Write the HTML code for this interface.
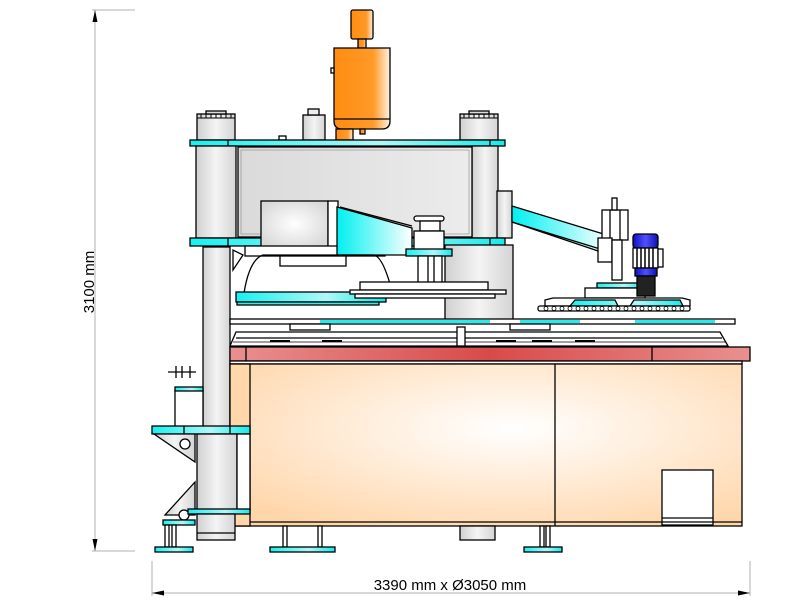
<!DOCTYPE html>
<html><head><meta charset="utf-8"><style>
html,body{margin:0;padding:0;background:#fff;}
svg{display:block;}
text{font-family:"Liberation Sans",sans-serif;}
</style></head><body>
<svg width="800" height="600" viewBox="0 0 800 600" xmlns="http://www.w3.org/2000/svg">
<defs>
<linearGradient id="cy" x1="0" x2="1" y1="0" y2="0"><stop offset="0" stop-color="#19f0f0"/><stop offset="0.6" stop-color="#aef8f8"/><stop offset="1" stop-color="#19e8ea"/></linearGradient>
<linearGradient id="cyv" x1="0" x2="1"><stop offset="0" stop-color="#00f0f0"/><stop offset="1" stop-color="#ffffff"/></linearGradient>
<linearGradient id="gr" x1="0" x2="1"><stop offset="0" stop-color="#d0d0d0"/><stop offset="0.5" stop-color="#f4f4f4"/><stop offset="1" stop-color="#d4d4d4"/></linearGradient>
<linearGradient id="gr2" x1="0" x2="1"><stop offset="0" stop-color="#dadada"/><stop offset="1" stop-color="#ececec"/></linearGradient>
<linearGradient id="or" x1="0" x2="1"><stop offset="0" stop-color="#ff8c10"/><stop offset="0.7" stop-color="#ff9a28"/><stop offset="1" stop-color="#fff0e0"/></linearGradient>
<linearGradient id="red" x1="0" x2="1"><stop offset="0" stop-color="#e89090"/><stop offset="0.5" stop-color="#d84a4a"/><stop offset="1" stop-color="#e89090"/></linearGradient>
<radialGradient id="cab" cx="0.55" cy="0.4" r="0.7"><stop offset="0" stop-color="#ffffff"/><stop offset="1" stop-color="#ffd6aa"/></radialGradient>
<linearGradient id="blue" x1="0" x2="1"><stop offset="0" stop-color="#1010c0"/><stop offset="0.5" stop-color="#5050ff"/><stop offset="1" stop-color="#1010b0"/></linearGradient>
<radialGradient id="wb" cx="0.5" cy="0.5" r="0.6"><stop offset="0" stop-color="#fff"/><stop offset="1" stop-color="#d8d8d8"/></radialGradient>
</defs>
<g stroke="#000" stroke-width="1.3">
<!-- dimension lines -->
<g stroke="#b0b0b0" stroke-width="1">
<line x1="92" y1="10" x2="135" y2="10"/><line x1="95" y1="10" x2="95" y2="551"/><line x1="92" y1="551" x2="135" y2="551"/>
<line x1="152" y1="561" x2="152" y2="596"/><line x1="750" y1="561" x2="750" y2="596"/><line x1="152" y1="593" x2="750" y2="593"/>
</g>
<path d="M95 10 l-2.5 12 h5z M95 551 l-2.5 -12 h5z M152 593 l12 -2.5 v5z M750 593 l-12 -2.5 v5z" fill="#000" stroke="none"/>

<!-- top motor & tank -->
<rect x="351" y="10" width="22" height="29" rx="2" fill="url(#or)"/>
<rect x="358" y="39" width="8" height="9" fill="url(#or)"/>
<path d="M334 48 h56 v73 q0 8 -8 8 h-40 q-8 0 -8 -8z" fill="url(#or)"/>
<line x1="334" y1="119" x2="390" y2="119"/>
<rect x="331" y="68" width="3" height="5" fill="#fff"/>
<rect x="336" y="129" width="17" height="11" fill="url(#or)"/>
<rect x="360" y="129" width="5" height="5" fill="url(#or)"/>
<!-- top towers -->
<rect x="197" y="114" width="38" height="26" fill="url(#gr)"/>
<path d="M197 118 h38 M201 114 v4 M206 114 v4 M211 114 v4 M216 114 v4 M221 114 v4 M226 114 v4 M231 114 v4" stroke-width="1"/>
<rect x="206" y="111" width="20" height="3" fill="#ddd"/>
<rect x="460" y="114" width="38" height="26" fill="url(#gr)"/>
<path d="M460 118 h38 M464 114 v4 M469 114 v4 M474 114 v4 M479 114 v4 M484 114 v4 M489 114 v4 M494 114 v4" stroke-width="1"/>
<rect x="469" y="111" width="20" height="3" fill="#ddd"/>
<rect x="303" y="115" width="22" height="25" fill="url(#gr)"/><rect x="308" y="109" width="11" height="6" fill="#eee"/>
<rect x="279" y="136" width="7" height="4" fill="#fff"/>
<!-- top plate -->
<rect x="190" y="140" width="315" height="6" fill="url(#cy)"/>
<line x1="228" y1="140" x2="228" y2="146"/><line x1="490" y1="140" x2="490" y2="146"/>
<!-- columns and housing -->
<rect x="196" y="146" width="40" height="92" fill="url(#gr)"/>
<rect x="472" y="146" width="26" height="92" fill="url(#gr)"/>
<rect x="238" y="147" width="234" height="90" fill="url(#gr2)"/>
<rect x="241" y="150" width="228" height="84" fill="none" stroke-width="0.6" stroke="#888"/>
<rect x="497" y="191" width="15" height="47" fill="url(#gr)"/>
<!-- second plate -->
<rect x="190" y="238" width="315" height="8" fill="url(#cy)"/>
<line x1="228" y1="238" x2="228" y2="246"/><line x1="490" y1="238" x2="490" y2="246"/>
<!-- inner white block -->
<rect x="261" y="201" width="67" height="46" fill="url(#wb)"/>
<rect x="328" y="201" width="10" height="46" fill="#fff"/>
<rect x="245" y="246" width="140" height="10" fill="#fff"/>
<rect x="280" y="256" width="66" height="10" fill="#fff"/>
<!-- wedge -->
<path d="M337 207 L412 228 V255 H337Z" fill="url(#cyv)"/>
<path d="M340 207 L412 226" />
<!-- left long column -->
<rect x="203" y="247" width="27" height="180" fill="url(#gr)"/>
<path d="M233 250 v20 l10 -15z" fill="#fff"/>
<path d="M243 300 q5 -40 20 -45 h110 q10 0 20 40" fill="none"/>
<!-- cyan left press plate -->
<rect x="236" y="292" width="150" height="10" fill="url(#cy)"/>
<rect x="237" y="302" width="142" height="3" fill="#3ee"/>
<!-- lower housing -->
<rect x="445" y="245" width="68" height="75" fill="url(#gr)"/>
<!-- press shaft -->
<rect x="414" y="216" width="30" height="5" rx="2.5" fill="#fff"/>
<rect x="420" y="221" width="20" height="10" fill="#fff"/>
<rect x="414" y="231" width="30" height="20" fill="#fff"/>
<rect x="406" y="249" width="46" height="7" fill="url(#cy)"/>
<rect x="418" y="256" width="24" height="28" fill="#fff"/>
<line x1="428" y1="256" x2="428" y2="284"/><line x1="434" y1="256" x2="434" y2="284"/>
<!-- platform -->
<rect x="360" y="282" width="128" height="8" fill="#fff"/>
<rect x="350" y="290" width="156" height="4" fill="#fff"/>
<rect x="355" y="294" width="140" height="4" fill="#fff"/>
<!-- right arm -->
<path d="M512 206 L610 236 V255 L512 222Z" fill="url(#cyv)"/>
<path d="M512 222 L610 252" />
<!-- tool head -->
<rect x="602" y="210" width="26" height="30" fill="#fff"/>
<line x1="610" y1="210" x2="610" y2="240"/><line x1="620" y1="210" x2="620" y2="240"/>
<rect x="612" y="198" width="5" height="12" fill="#fff"/>
<rect x="598" y="238" width="14" height="24" fill="#fff"/>
<rect x="612" y="240" width="10" height="40" fill="#fff"/>
<rect x="597" y="283" width="45" height="5" fill="url(#cy)"/>
<rect x="585" y="288" width="60" height="10" fill="#fff"/>
<!-- blue motor -->
<rect x="633" y="234" width="25" height="14" rx="3" fill="url(#blue)"/>
<rect x="633" y="248" width="25" height="20" fill="#fff"/>
<g stroke-width="1.5"><line x1="637" y1="248" x2="637" y2="268"/><line x1="641" y1="248" x2="641" y2="268"/><line x1="645" y1="248" x2="645" y2="268"/><line x1="649" y1="248" x2="649" y2="268"/><line x1="653" y1="248" x2="653" y2="268"/></g>
<rect x="658" y="249" width="5" height="18" fill="#fff"/>
<rect x="635" y="268" width="22" height="8" fill="url(#blue)"/>
<rect x="637" y="276" width="18" height="20" fill="#222"/>
<!-- right rack -->
<path d="M545 300 L553 298 H682 L690 300 V306 H545Z" fill="#fff"/>
<path d="M570 306 L575 300 H615 L618 306Z M630 306 L634 300 H680 L683 306Z" fill="url(#cy)"/>
<rect x="538" y="306" width="152" height="5" rx="2" fill="#fff"/>
<g fill="#fff" stroke-width="0.8">
<circle cx="546" cy="308.5" r="2"/><circle cx="554" cy="308.5" r="2"/><circle cx="562" cy="308.5" r="2"/><circle cx="570" cy="308.5" r="2"/><circle cx="578" cy="308.5" r="2"/><circle cx="586" cy="308.5" r="2"/><circle cx="594" cy="308.5" r="2"/><circle cx="602" cy="308.5" r="2"/><circle cx="610" cy="308.5" r="2"/><circle cx="618" cy="308.5" r="2"/><circle cx="626" cy="308.5" r="2"/><circle cx="634" cy="308.5" r="2"/><circle cx="642" cy="308.5" r="2"/><circle cx="650" cy="308.5" r="2"/><circle cx="658" cy="308.5" r="2"/><circle cx="666" cy="308.5" r="2"/><circle cx="674" cy="308.5" r="2"/><circle cx="682" cy="308.5" r="2"/>
</g>
<!-- rails -->
<rect x="230" y="319" width="505" height="5" fill="#fff"/>
<rect x="320" y="320" width="170" height="3" fill="#2ee" stroke="none"/>
<rect x="520" y="320" width="60" height="3" fill="#2ee" stroke="none"/>
<rect x="635" y="320" width="80" height="3" fill="#2ee" stroke="none"/>
<path d="M230 346 L236 332 H720 L728 346Z" fill="#fff"/>
<line x1="236" y1="338" x2="722" y2="338"/><line x1="233" y1="342" x2="725" y2="342" stroke-width="0.8"/>
<rect x="290" y="324" width="40" height="6" fill="#fff"/><rect x="510" y="324" width="40" height="6" fill="#fff"/>
<rect x="457" y="327" width="8" height="19" fill="#fff"/>
<path d="M270 341 h20 M322 341 h20 M496 341 h20 M532 341 h20 M575 341 h20" stroke-width="2"/>
<!-- red band -->
<rect x="230" y="347" width="520" height="14" fill="url(#red)"/>
<line x1="246" y1="347" x2="246" y2="361"/><line x1="652" y1="347" x2="652" y2="361"/>
<rect x="230" y="361" width="512" height="3" fill="#fff"/>
<!-- cabinet -->
<rect x="230" y="364" width="512" height="162" fill="url(#cab)"/>
<rect x="230" y="364" width="20" height="162" fill="#ffd7aa"/>
<line x1="555" y1="364" x2="555" y2="526"/>
<rect x="662" y="470" width="51" height="55" fill="#fff"/>
<line x1="662" y1="518" x2="713" y2="518"/>
<line x1="250" y1="522" x2="742" y2="522"/>
<!-- left small valve and bracket -->
<rect x="175" y="390" width="28" height="37" fill="#fff"/>
<rect x="175" y="387" width="28" height="4" fill="url(#cy)"/>
<path d="M168 372 h28 M176 366 v12 M182 366 v12 M190 366 v12" />
<rect x="152" y="426" width="98" height="8" fill="url(#cy)"/>
<line x1="184" y1="426" x2="184" y2="434"/><line x1="230" y1="426" x2="230" y2="434"/>
<rect x="197" y="434" width="40" height="76" fill="url(#gr)"/>
<rect x="237" y="434" width="13" height="76" fill="#fff"/>
<path d="M154 434 L195 434 V462 Z" fill="url(#gr)"/>
<circle cx="185" cy="444" r="5" fill="#fff"/>
<path d="M195 482 V515 H165 Z" fill="url(#gr)"/>
<circle cx="184" cy="515" r="5" fill="#fff"/>
<rect x="188" y="509" width="62" height="5" fill="url(#cy)"/>
<rect x="163" y="520" width="32" height="5" fill="url(#cy)"/>
<rect x="197" y="514" width="38" height="26" fill="url(#gr)"/>
<path d="M197 533 h38" />
<rect x="165" y="525" width="4" height="22" fill="#fff"/><rect x="172" y="525" width="4" height="22" fill="#fff"/>
<rect x="155" y="547" width="38" height="5" fill="url(#cy)"/>
<!-- feet -->
<rect x="460" y="526" width="35" height="14" fill="url(#gr)"/>
<rect x="283" y="526" width="4" height="21" fill="#fff"/><rect x="318" y="526" width="4" height="21" fill="#fff"/>
<rect x="270" y="547" width="65" height="5" fill="url(#cy)"/>
<rect x="540" y="526" width="4" height="21" fill="#fff"/><rect x="546" y="526" width="4" height="21" fill="#fff"/>
<rect x="524" y="547" width="38" height="5" fill="url(#cy)"/>
</g>
<text x="94" y="282" font-size="15" text-anchor="middle" transform="rotate(-90 94 282)">3100 mm</text>
<text x="450" y="590" font-size="15" text-anchor="middle">3390 mm x Ø3050 mm</text>
</svg>
</body></html>
